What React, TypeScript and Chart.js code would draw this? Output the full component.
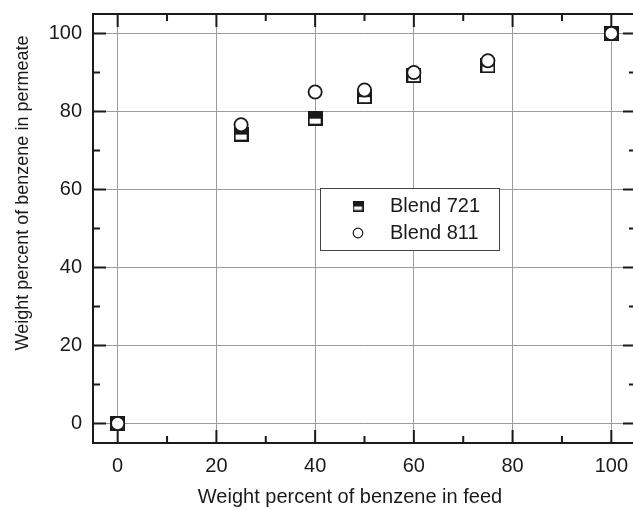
import React, { useEffect, useRef } from "react";
import { Chart, registerables } from "chart.js";

Chart.register(...registerables);

// ---- data ----
const feedX = [0, 25, 40, 50, 60, 75, 100];
const blend721 = [0, 74.2, 78.3, 83.8, 89.2, 91.7, 100];
const blend811 = [0, 76.6, 85, 85.5, 90, 93, 100];
const seriesLabels = ["Blend 721", "Blend 811"];
const xMajorTicks = [0, 20, 40, 60, 80, 100];
const xMinorTicks = [10, 30, 50, 70, 90];
const yMajorTicks = [0, 20, 40, 60, 80, 100];
const yMinorTicks = [10, 30, 50, 70, 90];
const xTitle = "Weight percent of benzene in feed";
const yTitle = "Weight percent of benzene in permeate";

const FONT = "'Liberation Sans', Arial, Helvetica, sans-serif";
const INK = "#1a1a1a";
const GRID = "#9c9c9c";

function halfSquare(size: number, lw: number): HTMLCanvasElement {
  const c = document.createElement("canvas");
  c.width = size;
  c.height = size;
  const g = c.getContext("2d")!;
  g.fillStyle = "#ffffff";
  g.fillRect(0, 0, size, size);
  g.fillStyle = INK;
  g.fillRect(0, 0, size, Math.round(size * 0.55));
  g.strokeStyle = INK;
  g.lineWidth = lw;
  g.strokeRect(lw / 2, lw / 2, size - lw, size - lw);
  return c;
}

const framePlugin = {
  id: "frameTicks",
  afterDraw(chart: any) {
    const { ctx, chartArea: a, scales } = chart;
    const x = scales.x;
    const y = scales.y;
    ctx.save();
    ctx.strokeStyle = INK;
    ctx.lineWidth = 2;
    ctx.beginPath();
    const tickX = (vals: number[], len: number) => {
      for (const v of vals) {
        const p = x.getPixelForValue(v);
        ctx.moveTo(p, a.bottom);
        ctx.lineTo(p, a.bottom - len);
        ctx.moveTo(p, a.top);
        ctx.lineTo(p, a.top + len);
      }
    };
    const tickY = (vals: number[], len: number) => {
      for (const v of vals) {
        const p = y.getPixelForValue(v);
        ctx.moveTo(a.left, p);
        ctx.lineTo(a.left + len, p);
        ctx.moveTo(a.right, p);
        ctx.lineTo(a.right - len, p);
      }
    };
    tickX(xMajorTicks, 13);
    tickX(xMinorTicks, 7);
    tickY(yMajorTicks, 13);
    tickY(yMinorTicks, 7);
    ctx.stroke();
    ctx.lineWidth = 2;
    ctx.strokeRect(a.left, a.top, a.right - a.left, a.bottom - a.top);

    // axis titles
    ctx.fillStyle = INK;
    ctx.textAlign = "center";
    ctx.textBaseline = "middle";
    ctx.font = `20px ${FONT}`;
    ctx.fillText(xTitle, 350, 497);
    ctx.save();
    ctx.translate(23, 193);
    ctx.rotate(-Math.PI / 2);
    ctx.font = `18px ${FONT}`;
    ctx.fillText(yTitle, 0, 0);
    ctx.restore();

    // legend box
    const bx = 320, by = 188, bw = 179, bh = 62;
    ctx.fillStyle = "#ffffff";
    ctx.fillRect(bx, by, bw, bh);
    ctx.strokeStyle = "#444";
    ctx.lineWidth = 1;
    ctx.strokeRect(bx + 0.5, by + 0.5, bw, bh);
    const rows = [206, 233];
    ctx.font = `20px ${FONT}`;
    ctx.textBaseline = "middle";
    ctx.textAlign = "left";
    chart.data.datasets.forEach((ds: any, i: number) => {
      const cy = rows[i];
      if (i === 0) {
        const img = halfSquare(11, 1.5);
        ctx.drawImage(img, 358 - 5.5, cy - 5.5);
      } else {
        ctx.beginPath();
        ctx.fillStyle = "#fff";
        ctx.strokeStyle = INK;
        ctx.lineWidth = 1.2;
        ctx.arc(358, cy, 4.8, 0, Math.PI * 2);
        ctx.fill();
        ctx.stroke();
      }
      ctx.fillStyle = INK;
      ctx.fillText(ds.label, 390, cy);
    });
    ctx.restore();
  },
};

const zeroPad = (s: any) => {
  s.paddingTop = 0;
  s.paddingBottom = 0;
  s.paddingLeft = 0;
  s.paddingRight = 0;
};

export default function App() {
  const ref = useRef<HTMLCanvasElement | null>(null);

  useEffect(() => {
    if (!ref.current) return;
    const squareImg = halfSquare(15, 2);
    const chart = new Chart(ref.current, {
      type: "scatter",
      data: {
        datasets: [
          {
            label: seriesLabels[0],
            data: feedX.map((v, i) => ({ x: v, y: blend721[i] })),
            pointStyle: squareImg as any,
            pointRadius: 8,
            order: 2,
            clip: false as any,
          },
          {
            label: seriesLabels[1],
            data: feedX.map((v, i) => ({ x: v, y: blend811[i] })),
            pointStyle: "circle",
            pointRadius: 6.6,
            borderWidth: 1.8,
            borderColor: INK,
            backgroundColor: "#ffffff",
            order: 1,
            clip: false as any,
          },
        ],
      },
      options: {
        animation: false,
        responsive: false,
        maintainAspectRatio: false,
        devicePixelRatio: 1,
        events: [],
        layout: { autoPadding: false, padding: { top: 14, right: 4, left: 0, bottom: 0 } },
        plugins: {
          legend: { display: false },
          tooltip: { enabled: false },
        },
        scales: {
          x: {
            type: "linear",
            min: -5,
            max: 105,
            afterBuildTicks: (s: any) => {
              s.ticks = xMajorTicks.map((v) => ({ value: v }));
            },
            afterFit: (s: any) => {
              s.height = 67;
              zeroPad(s);
            },
            ticks: {
              padding: 11,
              color: INK,
              font: { family: FONT, size: 20 },
              maxRotation: 0,
              autoSkip: false,
            },
            grid: { color: GRID, lineWidth: 1, drawTicks: false },
            border: { display: false },
            title: { display: false },
          },
          y: {
            type: "linear",
            min: -5,
            max: 105,
            afterBuildTicks: (s: any) => {
              s.ticks = yMajorTicks.map((v) => ({ value: v }));
            },
            afterFit: (s: any) => {
              s.width = 93;
              zeroPad(s);
            },
            ticks: {
              padding: 11,
              color: INK,
              font: { family: FONT, size: 20 },
              autoSkip: false,
            },
            grid: { color: GRID, lineWidth: 1, drawTicks: false },
            border: { display: false },
            title: { display: false },
          },
        },
      },
      plugins: [framePlugin],
    });
    return () => chart.destroy();
  }, []);

  return (
    <div
      style={{
        position: "absolute",
        left: 0,
        top: 0,
        width: 633,
        height: 510,
        overflow: "hidden",
        background: "#fff",
      }}
    >
      <canvas ref={ref} width={640} height={510} style={{ display: "block" }} />
    </div>
  );
}
